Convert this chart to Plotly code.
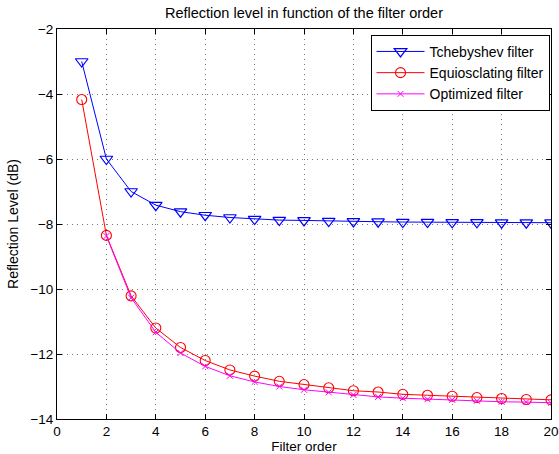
import plotly.graph_objects as go

order_tch = list(range(1, 21))
tchebyshev = [-3.0, -6.0, -7.0, -7.42, -7.62, -7.73, -7.80, -7.85, -7.88, -7.89,
              -7.91, -7.92, -7.93, -7.94, -7.94, -7.95, -7.95, -7.96, -7.96, -7.96]
order_eq = list(range(1, 21))
equiosc = [-4.17, -8.35, -10.21, -11.2, -11.8, -12.2, -12.49, -12.68, -12.84, -12.94,
           -13.04, -13.13, -13.17, -13.24, -13.27, -13.30, -13.34, -13.37, -13.40, -13.41]
order_opt = list(range(2, 21))
optimized = [-8.37, -10.27, -11.33, -11.97, -12.38, -12.67, -12.86, -13.0, -13.1,
             -13.18, -13.26, -13.32, -13.36, -13.39, -13.41, -13.44, -13.47, -13.48, -13.5]

x_ticks = list(range(0, 21, 2))
y_ticks = list(range(-14, -1, 2))

font = "Liberation Sans, Arial, sans-serif"

fig = go.Figure()
fig.add_trace(go.Scatter(x=order_tch, y=tchebyshev, mode="lines+markers",
                         name="Tchebyshev filter",
                         line=dict(color="#0000ff", width=1),
                         marker=dict(symbol="triangle-down-open", size=11, color="#0000ff",
                                     line=dict(width=1.2))))
fig.add_trace(go.Scatter(x=order_eq, y=equiosc, mode="lines+markers",
                         name="Equiosclating filter",
                         line=dict(color="#ff0000", width=1),
                         marker=dict(symbol="circle-open", size=10, color="#ff0000",
                                     line=dict(width=1.1))))
fig.add_trace(go.Scatter(x=order_opt, y=optimized, mode="lines+markers",
                         name="Optimized filter",
                         line=dict(color="#ff00ff", width=1),
                         marker=dict(symbol="x-thin-open", size=6, color="#ff00ff",
                                     line=dict(width=1, color="#ff00ff"))))

axis_common = dict(showline=True, linecolor="black", linewidth=1, mirror="ticks",
                   ticks="inside", ticklen=5, tickcolor="black", automargin=False,
                   showgrid=True, gridcolor="#777777", griddash="1px,4px", gridwidth=1,
                   zeroline=False, tickfont=dict(family=font, size=13.5, color="black"))

fig.update_layout(
    width=559, height=454,
    margin=dict(l=57, r=8, t=29, b=35, autoexpand=False),
    paper_bgcolor="white", plot_bgcolor="white",
    title=dict(text="Reflection level in function of the filter order",
               x=0.5, xref="paper", xanchor="center", y=1 - 13 / 454, yanchor="middle",
               font=dict(family=font, size=14.5, color="black")),
    xaxis=dict(range=[0, 20], tickvals=x_ticks, ticklabelstandoff=0,
               title=dict(text="Filter order", font=dict(family=font, size=13.5, color="black"), standoff=4),
               **axis_common),
    yaxis=dict(range=[-14, -2], tickvals=y_ticks,
               title=dict(text="Reflection Level (dB)", font=dict(family=font, size=14, color="black"), standoff=8),
               **axis_common),
    legend=dict(x=0.997, y=0.985, xanchor="right", yanchor="top",
                bgcolor="white", bordercolor="black", borderwidth=1,
                font=dict(family=font, size=14, color="black"),
                tracegroupgap=0, itemwidth=48),
    showlegend=True,
)

fig.write_html("out.html")
